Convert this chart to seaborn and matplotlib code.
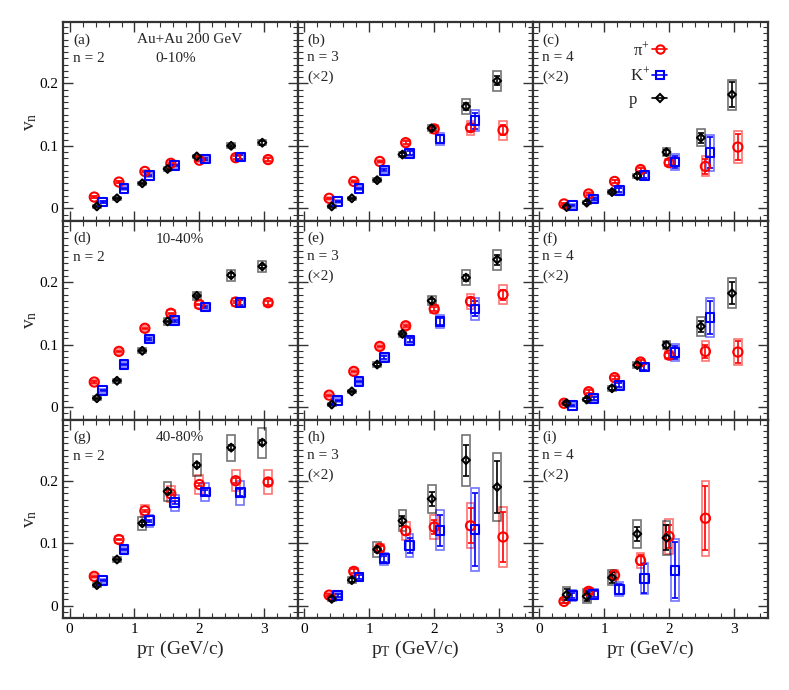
import matplotlib
matplotlib.use("Agg")
import matplotlib.pyplot as plt
from matplotlib.patches import Rectangle
from matplotlib.lines import Line2D
from matplotlib.ticker import MultipleLocator
import seaborn as sns
import pandas as pd
import numpy as np

# pT positions of the points (GeV/c)
pt_pi = [0.38, 0.76, 1.16, 1.56, 2.00, 2.56, 3.06]
pt_k = [0.51, 0.84, 1.23, 1.62, 2.09, 2.63]
pt_p = [0.42, 0.73, 1.12, 1.51, 1.96, 2.49, 2.97]

# (a) 0-10%, n=2
a_pi = [0.018, 0.042, 0.059, 0.072, 0.077, 0.081, 0.078]
a_pi_stat = [0.001, 0.001, 0.001, 0.001, 0.001, 0.002, 0.002]
a_pi_sys = [0.002, 0.002, 0.003, 0.003, 0.003, 0.004, 0.004]
a_k = [0.010, 0.032, 0.053, 0.068, 0.079, 0.082]
a_k_stat = [0.001, 0.001, 0.001, 0.001, 0.002, 0.003]
a_k_sys = [0.002, 0.003, 0.003, 0.003, 0.004, 0.004]
a_p = [0.003, 0.016, 0.040, 0.063, 0.083, 0.100, 0.105]
a_p_stat = [0.001, 0.001, 0.001, 0.001, 0.001, 0.002, 0.003]
a_p_sys = [0.002, 0.002, 0.002, 0.003, 0.003, 0.004, 0.004]

# (b) 0-10%, n=3 (x2)
b_pi = [0.016, 0.043, 0.075, 0.105, 0.127, 0.129, 0.125]
b_pi_stat = [0.001, 0.001, 0.001, 0.002, 0.003, 0.005, 0.008]
b_pi_sys = [0.002, 0.003, 0.003, 0.004, 0.006, 0.011, 0.015]
b_k = [0.011, 0.032, 0.061, 0.088, 0.111, 0.140]
b_k_stat = [0.001, 0.001, 0.002, 0.003, 0.006, 0.013]
b_k_sys = [0.003, 0.003, 0.004, 0.005, 0.009, 0.017]
b_p = [0.003, 0.016, 0.045, 0.086, 0.128, 0.163, 0.204]
b_p_stat = [0.001, 0.001, 0.002, 0.002, 0.003, 0.006, 0.007]
b_p_sys = [0.002, 0.002, 0.003, 0.004, 0.005, 0.0115, 0.0155]

# (c) 0-10%, n=4 (x2)
c_pi = [0.007, 0.023, 0.043, 0.062, 0.073, 0.067, 0.098]
c_pi_stat = [0.001, 0.001, 0.002, 0.002, 0.004, 0.012, 0.021]
c_pi_sys = [0.002, 0.003, 0.003, 0.004, 0.006, 0.016, 0.025]
c_k = [0.004, 0.015, 0.029, 0.053, 0.074, 0.089]
c_k_stat = [0.001, 0.002, 0.003, 0.004, 0.009, 0.025]
c_k_sys = [0.003, 0.003, 0.004, 0.005, 0.013, 0.029]
c_p = [0.002, 0.009, 0.026, 0.052, 0.090, 0.113, 0.182]
c_p_stat = [0.002, 0.002, 0.002, 0.003, 0.004, 0.008, 0.020]
c_p_sys = [0.002, 0.002, 0.003, 0.003, 0.007, 0.014, 0.024]

# (d) 10-40%, n=2
d_pi = [0.040, 0.089, 0.126, 0.150, 0.164, 0.168, 0.167]
d_pi_stat = [0.001, 0.001, 0.001, 0.001, 0.001, 0.002, 0.003]
d_pi_sys = [0.003, 0.004, 0.004, 0.005, 0.005, 0.006, 0.006]
d_k = [0.026, 0.068, 0.109, 0.138, 0.160, 0.167]
d_k_stat = [0.001, 0.001, 0.001, 0.002, 0.002, 0.004]
d_k_sys = [0.003, 0.004, 0.004, 0.005, 0.005, 0.006]
d_p = [0.014, 0.042, 0.090, 0.137, 0.178, 0.211, 0.225]
d_p_stat = [0.001, 0.001, 0.001, 0.001, 0.002, 0.003, 0.003]
d_p_sys = [0.003, 0.003, 0.004, 0.005, 0.006, 0.009, 0.009]

# (e) 10-40%, n=3 (x2)
e_pi = [0.019, 0.057, 0.097, 0.130, 0.157, 0.169, 0.180]
e_pi_stat = [0.001, 0.001, 0.001, 0.002, 0.003, 0.005, 0.008]
e_pi_sys = [0.003, 0.004, 0.004, 0.005, 0.006, 0.012, 0.015]
e_k = [0.011, 0.041, 0.079, 0.107, 0.137, 0.157]
e_k_stat = [0.001, 0.001, 0.002, 0.003, 0.006, 0.012]
e_k_sys = [0.003, 0.004, 0.005, 0.005, 0.010, 0.017]
e_p = [0.004, 0.025, 0.068, 0.117, 0.170, 0.207, 0.236]
e_p_stat = [0.001, 0.001, 0.002, 0.002, 0.003, 0.005, 0.008]
e_p_sys = [0.002, 0.003, 0.004, 0.005, 0.007, 0.0125, 0.016]

# (f) 10-40%, n=4 (x2)
f_pi = [0.006, 0.0245, 0.047, 0.072, 0.083, 0.089, 0.088]
f_pi_stat = [0.001, 0.002, 0.002, 0.003, 0.004, 0.011, 0.017]
f_pi_sys = [0.003, 0.004, 0.004, 0.005, 0.006, 0.016, 0.021]
f_k = [0.003, 0.014, 0.035, 0.064, 0.087, 0.143]
f_k_stat = [0.001, 0.002, 0.003, 0.005, 0.010, 0.026]
f_k_sys = [0.003, 0.004, 0.005, 0.006, 0.014, 0.031]
f_p = [0.006, 0.012, 0.030, 0.067, 0.099, 0.129, 0.182]
f_p_stat = [0.002, 0.002, 0.003, 0.003, 0.005, 0.009, 0.0175]
f_p_sys = [0.003, 0.003, 0.004, 0.005, 0.006, 0.015, 0.024]

# (g) 40-80%, n=2
g_pi = [0.047, 0.106, 0.152, 0.179, 0.194, 0.200, 0.198]
g_pi_stat = [0.001, 0.001, 0.002, 0.002, 0.003, 0.004, 0.005]
g_pi_sys = [0.003, 0.005, 0.010, 0.0125, 0.015, 0.017, 0.019]
g_k = [0.040, 0.090, 0.136, 0.165, 0.182, 0.181]
g_k_stat = [0.001, 0.001, 0.002, 0.002, 0.004, 0.006]
g_k_sys = [0.003, 0.004, 0.010, 0.013, 0.015, 0.019]
g_p = [0.033, 0.074, 0.132, 0.183, 0.225, 0.253, 0.261]
g_p_stat = [0.001, 0.001, 0.002, 0.002, 0.003, 0.004, 0.004]
g_p_sys = [0.003, 0.004, 0.010, 0.015, 0.018, 0.021, 0.024]

# (h) 40-80%, n=3 (x2)
h_pi = [0.017, 0.055, 0.092, 0.120, 0.126, 0.128, 0.110]
h_pi_stat = [0.002, 0.003, 0.004, 0.006, 0.011, 0.028, 0.040]
h_pi_sys = [0.003, 0.005, 0.007, 0.014, 0.0185, 0.036, 0.048]
h_k = [0.016, 0.046, 0.075, 0.097, 0.121, 0.122]
h_k_stat = [0.002, 0.003, 0.005, 0.012, 0.025, 0.059]
h_k_sys = [0.004, 0.006, 0.010, 0.0185, 0.0325, 0.067]
h_p = [0.011, 0.041, 0.090, 0.136, 0.171, 0.233, 0.190]
h_p_stat = [0.003, 0.003, 0.004, 0.008, 0.011, 0.025, 0.041]
h_p_sys = [0.004, 0.005, 0.012, 0.017, 0.0225, 0.041, 0.054]

# (i) 40-80%, n=4 (x2)
i_pi = [0.007, 0.023, 0.049, 0.0725, 0.111, 0.140]
i_pi_stat = [0.002, 0.004, 0.005, 0.008, 0.018, 0.051]
i_pi_sys = [0.003, 0.006, 0.008, 0.0115, 0.028, 0.060]
i_k = [0.016, 0.0186, 0.0265, 0.044, 0.057]
i_k_stat = [0.004, 0.005, 0.008, 0.023, 0.045]
i_k_sys = [0.009, 0.0085, 0.011, 0.025, 0.050]
i_p = [0.0175, 0.015, 0.045, 0.115, 0.1086]
i_p_stat = [0.009, 0.008, 0.009, 0.011, 0.020]
i_p_sys = [0.0125, 0.011, 0.0125, 0.022, 0.0275]

panel_letters = ['a', 'b', 'c', 'd', 'e', 'f', 'g', 'h', 'i']
centralities = ['0-10%', '10-40%', '40-80%']
harmonics = [2, 3, 4]

panels = {
  'a': (a_pi, a_pi_stat, a_pi_sys, a_k, a_k_stat, a_k_sys, a_p, a_p_stat, a_p_sys),
  'b': (b_pi, b_pi_stat, b_pi_sys, b_k, b_k_stat, b_k_sys, b_p, b_p_stat, b_p_sys),
  'c': (c_pi, c_pi_stat, c_pi_sys, c_k, c_k_stat, c_k_sys, c_p, c_p_stat, c_p_sys),
  'd': (d_pi, d_pi_stat, d_pi_sys, d_k, d_k_stat, d_k_sys, d_p, d_p_stat, d_p_sys),
  'e': (e_pi, e_pi_stat, e_pi_sys, e_k, e_k_stat, e_k_sys, e_p, e_p_stat, e_p_sys),
  'f': (f_pi, f_pi_stat, f_pi_sys, f_k, f_k_stat, f_k_sys, f_p, f_p_stat, f_p_sys),
  'g': (g_pi, g_pi_stat, g_pi_sys, g_k, g_k_stat, g_k_sys, g_p, g_p_stat, g_p_sys),
  'h': (h_pi, h_pi_stat, h_pi_sys, h_k, h_k_stat, h_k_sys, h_p, h_p_stat, h_p_sys),
  'i': (i_pi, i_pi_stat, i_pi_sys, i_k, i_k_stat, i_k_sys, i_p, i_p_stat, i_p_sys),
}

species = [
  # name, pt, marker, size, colour
  ('pi', pt_pi, 'o', 44, '#ff0000'),
  ('k', pt_k, 's', 40, '#0000ff'),
  ('p', pt_p, 'D', 16, '#000000'),
]
box_width = 0.12

sns.set_theme(style="ticks")
plt.rcParams['font.family'] = ['Liberation Serif', 'DejaVu Serif']
plt.rcParams['mathtext.fontset'] = 'custom'
plt.rcParams['mathtext.rm'] = 'Liberation Serif'
plt.rcParams['mathtext.it'] = 'Liberation Serif:italic'
plt.rcParams['mathtext.bf'] = 'Liberation Serif:bold'

f, ax = plt.subplots(3, 3, figsize=(7.89, 6.90), dpi=100, sharex=True, sharey=True)
plt.subplots_adjust(left=0.080, right=0.973, top=0.968, bottom=0.104, wspace=0, hspace=0)

for row in range(3):
  for col in range(3):
    a = ax[row, col]
    letter = panel_letters[row * 3 + col]
    vals = panels[letter]
    for k, (name, pt, marker, size, colour) in enumerate(species):
      v = vals[3 * k]
      stat = vals[3 * k + 1]
      sys_ = vals[3 * k + 2]
      x = np.array(pt[:len(v)])
      df = pd.DataFrame({'pT': x, 'vn': v, 'stat': stat, 'sys': sys_})
      # systematic boxes
      for _, r in df.iterrows():
        a.add_patch(Rectangle((r['pT'] - box_width / 2, r['vn'] - r['sys']), box_width, 2 * r['sys'],
                              fill=False, edgecolor=colour, alpha=0.55, lw=1.2, zorder=1))
      a.errorbar(df['pT'], df['vn'], yerr=df['stat'], fmt='none', ecolor=colour,
                 elinewidth=1.2, capsize=2, capthick=1.2, zorder=2)
      sns.scatterplot(data=df, x='pT', y='vn', marker=marker, s=size, color=colour,
                      facecolor='none', edgecolor=colour, linewidth=1.5, zorder=3,
                      legend=False, ax=a)

    a.set_xlim(-0.1, 3.52)
    a.set_ylim(-0.02, 0.298)
    a.xaxis.set_major_locator(MultipleLocator(1))
    a.xaxis.set_minor_locator(MultipleLocator(0.2))
    a.yaxis.set_major_locator(MultipleLocator(0.1))
    a.yaxis.set_minor_locator(MultipleLocator(0.01))
    a.yaxis.set_major_formatter(matplotlib.ticker.FuncFormatter(lambda y, p: '0' if abs(y) < 1e-9 else f'{y:.1f}'))
    a.tick_params(which='both', direction='in', top=True, right=True, colors='#333333', labelcolor='black')
    a.tick_params(which='major', length=7, width=1, labelsize=11)
    a.tick_params(which='minor', length=3.5, width=0.8)
    for s in a.spines.values():
      s.set_linewidth(1.6)
      s.set_color('#333333')

    if row == 2:
      a.set_xlabel(r'p$_{\mathrm{T}}$ (GeV/c)', fontsize=14, labelpad=2)
    else:
      a.set_xlabel('')
    if col == 0:
      a.set_ylabel(r'v$_{\mathrm{n}}$', fontsize=14, labelpad=0)
    else:
      a.set_ylabel('')

    a.text(0.042, 0.91, f'({letter})', transform=a.transAxes, fontsize=11, va='center', ha='left')
    if col == 0:
      if row == 0:
        a.text(0.54, 0.91, 'Au+Au 200 GeV', transform=a.transAxes, fontsize=11, va='center', ha='center')
        a.text(0.48, 0.817, centralities[row], transform=a.transAxes, fontsize=11, va='center', ha='center')
      else:
        a.text(0.495, 0.908, centralities[row], transform=a.transAxes, fontsize=11, va='center', ha='center')
      a.text(0.042, 0.815, f'n = {harmonics[col]}', transform=a.transAxes, fontsize=11, va='center', ha='left')
    else:
      a.text(0.04, 0.82, f'n = {harmonics[col]}', transform=a.transAxes, fontsize=11, va='center', ha='left')
      a.text(0.04, 0.722, '(\u00d72)', transform=a.transAxes, fontsize=11, va='center', ha='left')

handles = [Line2D([], [], color=c, marker=m, mfc='none', mew=1.5, ms=(6 if m != 'D' else 4.5), lw=1.2)
           for (_, _, m, _, c) in species]
labels = [r'π$^{+}$', r'K$^{+}$', 'p   ']
ax[0, 2].legend(handles, labels, loc='upper left', bbox_to_anchor=(0.41, 0.905), frameon=False,
                markerfirst=False, handlelength=0.9, handletextpad=0.15, labelspacing=0.45,
                borderpad=0, borderaxespad=0, fontsize=12)

plt.savefig('out.png', dpi=100)
